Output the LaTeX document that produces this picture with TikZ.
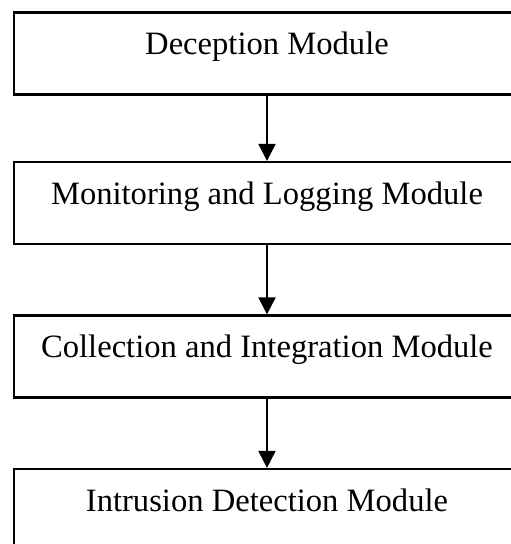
\documentclass[tikz,border=0pt]{standalone}
\usepackage{fontspec}
\setmainfont{Liberation Serif}
\usepackage{tikz}
\usetikzlibrary{arrows.meta}
\tikzset{modbox/.style={draw, line width=2.2pt, rectangle, inner sep=0pt, minimum width=506pt,
    text height=42pt, text depth=40pt, font=\fontsize{32.6}{38}\selectfont}}
\tikzset{flow/.style={line width=2pt, -{Triangle[width=17pt,length=17pt]}}}
\newcommand{\modnode}[3]{\node[modbox] (#1) at (267, #2) {#3};}

\begin{document}
\begin{tikzpicture}[x=1pt,y=-1pt]
        \clip (0,0) rectangle (511,544);
        \useasboundingbox (0,0) rectangle (511,544);
        %modules
        \modnode{dec}{53.5}{Deception Module}
        \modnode{mon}{203}{Monitoring and Logging Module}
        \modnode{col}{356.5}{Collection and Integration Module}
        \modnode{ids}{510}{Intrusion Detection Module}
        %arrows
        \draw[flow] (dec) -- (mon);
        \draw[flow] (mon) -- (col);
        \draw[flow] (col) -- (ids);
\end{tikzpicture}
\end{document}
